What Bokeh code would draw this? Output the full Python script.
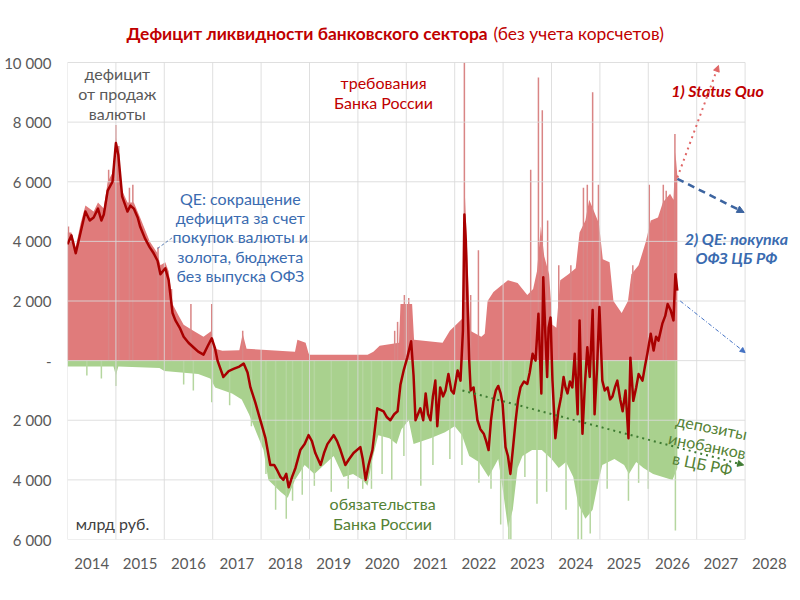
from bokeh.plotting import figure
from bokeh.models import FixedTicker, Arrow, NormalHead
from bokeh.core.properties import value
from bokeh.embed import file_html
from bokeh.resources import INLINE

FONT = "Lato"

# net liquidity deficit (bn rub)
net_t = [2014.00, 2014.08, 2014.17, 2014.27, 2014.37, 2014.46, 2014.54, 2014.63, 2014.70, 2014.75,
         2014.83, 2014.93, 2015.00, 2015.05, 2015.13, 2015.24, 2015.30, 2015.37, 2015.45, 2015.50,
         2015.60, 2015.70, 2015.78, 2015.86, 2015.92, 2016.02, 2016.09, 2016.17, 2016.23, 2016.32,
         2016.40, 2016.50, 2016.60, 2016.70, 2016.81, 2016.90, 2016.98, 2017.05, 2017.10, 2017.22,
         2017.33, 2017.43, 2017.55, 2017.64, 2017.72, 2017.78, 2017.88, 2017.95, 2018.02, 2018.09,
         2018.19, 2018.27, 2018.34, 2018.40, 2018.46, 2018.52, 2018.57, 2018.64, 2018.71, 2018.81,
         2018.90, 2018.98, 2019.05, 2019.12, 2019.23, 2019.30, 2019.37, 2019.50, 2019.57, 2019.64,
         2019.74, 2019.82, 2019.91, 2020.05, 2020.10, 2020.16, 2020.22, 2020.30, 2020.40, 2020.53,
         2020.60, 2020.67, 2020.75, 2020.82, 2020.88, 2020.95, 2021.02, 2021.10, 2021.15, 2021.19,
         2021.29, 2021.35, 2021.40, 2021.45, 2021.50, 2021.55, 2021.60, 2021.64, 2021.70, 2021.76,
         2021.81, 2021.87, 2021.93, 2021.98, 2022.06, 2022.12, 2022.17, 2022.20, 2022.23, 2022.26,
         2022.30, 2022.33, 2022.39, 2022.47, 2022.53, 2022.60, 2022.65, 2022.70, 2022.75, 2022.80,
         2022.85, 2022.90, 2022.95, 2022.99, 2023.05, 2023.10, 2023.15, 2023.20, 2023.26, 2023.31,
         2023.36, 2023.43, 2023.50, 2023.55, 2023.61, 2023.67, 2023.73, 2023.79, 2023.83, 2023.87,
         2023.91, 2023.94, 2023.98, 2024.02, 2024.08, 2024.14, 2024.20, 2024.25, 2024.29, 2024.33,
         2024.38, 2024.43, 2024.48, 2024.54, 2024.58, 2024.64, 2024.69, 2024.74, 2024.79, 2024.85,
         2024.89, 2024.94, 2024.99, 2025.05, 2025.10, 2025.16, 2025.21, 2025.26, 2025.31, 2025.36,
         2025.42, 2025.47, 2025.53, 2025.59, 2025.63, 2025.69, 2025.75, 2025.80, 2025.88, 2025.93,
         2025.98, 2026.05, 2026.11, 2026.16, 2026.21, 2026.29, 2026.35, 2026.40, 2026.46, 2026.52,
         2026.56, 2026.60]
net_v = [3900, 4200, 3600, 4300, 5000, 4700, 4800, 5100, 4700, 4900,
         5700, 6000, 7300, 6900, 5500, 5000, 5200, 5100, 4800, 4500,
         4100, 3800, 3600, 3350, 2900, 3100, 2700, 1600, 1350, 1100,
         800, 600, 450, 300, 200, 500, 750, 400, 0, -550,
         -350, -280, -200, -100, -400, -900, -1400, -1800, -2200, -2600,
         -3500, -3500, -3700, -3900, -4000, -3800, -4250, -3900, -3600, -3000,
         -2800, -2500, -2700, -3100, -3500, -3100, -2800, -2500, -2700, -3000,
         -3500, -3300, -3100, -2900, -3300, -4000, -3500, -3000, -1600, -1700,
         -1900, -2000, -1800, -1700, -800, -300, 100, 650, -500, -2000,
         -1600, -2000, -1100, -1800, -2000, -1200, -670, -2200, -900, -1200,
         -1000, -450, -1000, -1100, -330, -670, 1000, 4900, 4000, 2200,
         0, -1000, -900, -2000, -2300, -2450, -2700, -3000, -2000, -1350,
         -1000, -850, -1100, -1450, -2900, -3200, -3800, -3000, -2000, -1300,
         -900, -700, -780, -400, 230, 0, 1570, -1100, 2800, 1000,
         -550, 1100, 1450, -670, -2600, -1700, -1200, -550, -900, -1100,
         -700, -900, 230, -1800, 1350, -2450, -800, 450, -550, 1700,
         -1800, -300, 1800, -670, -1000, -900, -1300, -1200, -900, -670,
         -1300, -1700, -1000, -2600, 100, -1350, -900, -450, -670, -200,
         230, 900, 340, 800, 670, 1240, 1500, 1900, 1700, 1350,
         2900, 2350]

# claims of the Bank of Russia (red area)
claims_t = [2014.00, 2014.08, 2014.17, 2014.27, 2014.37, 2014.54, 2014.63, 2014.75, 2014.83, 2014.93,
            2015.00, 2015.05, 2015.13, 2015.24, 2015.37, 2015.50, 2015.70, 2015.86, 2015.92, 2016.02,
            2016.09, 2016.17, 2016.30, 2016.40, 2016.60, 2016.81, 2016.98, 2017.05, 2017.20, 2017.55,
            2017.62, 2017.70, 2018.70, 2018.75, 2018.92, 2018.98, 2019.00, 2020.20, 2020.32, 2020.45,
            2020.85, 2020.88, 2021.12, 2021.16, 2021.75, 2021.90, 2022.15, 2022.18, 2022.20, 2022.26,
            2022.32, 2022.55, 2022.62, 2022.68, 2022.80, 2022.95, 2023.10, 2023.30, 2023.50, 2023.62,
            2023.70, 2023.78, 2023.85, 2023.95, 2024.02, 2024.10, 2024.18, 2024.35, 2024.50, 2024.58,
            2024.70, 2024.78, 2024.88, 2024.98, 2025.06, 2025.20, 2025.28, 2025.45, 2025.58, 2025.65,
            2025.80, 2025.95, 2026.05, 2026.20, 2026.30, 2026.45, 2026.52, 2026.56, 2026.60]
claims_v = [4300, 4300, 3800, 4600, 5200, 5000, 5300, 5100, 6000, 6300,
            7500, 7000, 5700, 5300, 5300, 4800, 4000, 3600, 3200, 3300,
            3000, 1900, 1500, 1200, 1000, 800, 1000, 400, 330, 350,
            900, 400, 300, 700, 600, 250, 200, 200, 300, 500,
            600, 1900, 1900, 700, 600, 1000, 1400, 1500, 6000, 3600,
            1000, 800, 900, 2000, 2300, 2500, 2700, 2600, 2200, 2400,
            3000, 4500, 3500, 2900, 1200, 1100, 2700, 2900, 3100, 4300,
            4700, 5400, 5000, 4600, 3400, 3300, 2000, 1600, 2000, 2900,
            3200, 4000, 4700, 4800, 5300, 5600, 5400, 7000, 6200]
claims_spike_t = [2014.02, 2014.85, 2015.00, 2015.06, 2015.28, 2015.35, 2015.87, 2016.15, 2016.55, 2016.98,
                  2017.62, 2020.76, 2020.82, 2020.96, 2021.05, 2022.20, 2022.33, 2022.49, 2023.57, 2023.73,
                  2023.81, 2023.92, 2024.15, 2024.40, 2024.66, 2024.74, 2024.85, 2024.97, 2025.68, 2026.02,
                  2026.31, 2026.37, 2026.55]
claims_spike_v = [4500, 6400, 7900, 7200, 5800, 5900, 3800, 2400, 1900, 1900,
                  1000, 1000, 1300, 2200, 2100, 10000, 2200, 3700, 6400, 9500,
                  8400, 4700, 3200, 3200, 5800, 5900, 9000, 5900, 3200, 5900,
                  5900, 5700, 7600]

# liabilities of the Bank of Russia (green area)
liab_t = [2014.00, 2014.95, 2015.00, 2015.05, 2015.90, 2016.00, 2016.70, 2016.95, 2017.05, 2017.40,
          2017.60, 2017.75, 2017.90, 2018.05, 2018.15, 2018.40, 2018.55, 2018.70, 2018.90, 2019.10,
          2019.30, 2019.50, 2019.70, 2019.90, 2020.10, 2020.20, 2020.30, 2020.42, 2020.65, 2020.80,
          2020.90, 2021.05, 2021.15, 2021.50, 2021.80, 2022.00, 2022.15, 2022.30, 2022.50, 2022.70,
          2022.90, 2023.00, 2023.10, 2023.20, 2023.30, 2023.40, 2023.60, 2023.80, 2024.00, 2024.15,
          2024.30, 2024.45, 2024.55, 2024.70, 2024.85, 2024.95, 2025.05, 2025.30, 2025.50, 2025.60,
          2025.75, 2025.90, 2026.10, 2026.30, 2026.50, 2026.60]
liab_v = [-200, -200, -500, -200, -250, -350, -450, -600, -900, -1100,
          -1300, -1800, -2400, -3000, -4000, -4400, -4600, -4000, -3500, -3800,
          -3500, -3200, -3900, -3800, -4000, -4200, -3300, -2500, -2600, -2800,
          -2300, -2000, -2800, -2600, -2400, -2200, -2500, -3200, -3400, -3900,
          -3300, -4400, -5600, -5000, -3600, -3200, -3000, -3000, -3300, -3600,
          -3400, -3900, -4800, -5300, -5000, -4200, -3500, -3300, -3500, -3800,
          -3400, -3600, -3800, -3900, -4000, -3600]
liab_spike_t = [2014.40, 2014.70, 2015.00, 2016.40, 2016.60, 2016.98, 2017.35, 2017.80, 2018.10, 2018.30,
                2018.52, 2018.65, 2018.85, 2019.10, 2019.45, 2019.80, 2020.10, 2020.28, 2020.50, 2020.70,
                2020.95, 2021.30, 2021.55, 2021.90, 2022.15, 2022.50, 2022.75, 2022.95, 2023.12, 2023.16,
                2023.45, 2023.70, 2023.90, 2024.30, 2024.55, 2024.62, 2024.80, 2025.15, 2025.59, 2025.80,
                2026.00, 2026.56]
liab_spike_v = [-500, -600, -850, -800, -1000, -1400, -1500, -2200, -3800, -5000,
                -5300, -4700, -4500, -4200, -4400, -4300, -4300, -4300, -3800, -4000,
                -3200, -4200, -3500, -3300, -3500, -4100, -4300, -5500, -6000, -6000,
                -3900, -4800, -4400, -5000, -6000, -6000, -5800, -4300, -4700, -4100,
                -4300, -5700]

years = list(range(2014, 2029))
y_ticks = [-6000, -4000, -2000, 0, 2000, 4000, 6000, 8000, 10000]
y_tick_text = ["6 000", "4 000", "2 000", "-", "2 000", "4 000", "6 000", "8 000", "10 000"]

RED_FILL = "#E07B7B"
GREEN_FILL = "#A9D18E"
LINE_RED = "#A80000"
TEXT_RED = "#C00000"
TEXT_BLUE = "#3A6BB0"
TEXT_GREEN = "#548235"
GREY = "#595959"

# the frame reaches up to the title row, so the title can be drawn as text in it
p = figure(width=800, height=590, x_range=(2014, 2029), y_range=(-6000, 12012.6),
           output_backend="svg", toolbar_location=None,
           min_border_left=67, min_border_right=7, min_border_top=2, min_border_bottom=51)
p.outline_line_color = None
p.xgrid.visible = False
p.ygrid.visible = False

# areas
p.varea(x=claims_t, y1=0, y2=claims_v, fill_color=RED_FILL)
p.segment(x0=claims_spike_t, y0=[0] * len(claims_spike_t), x1=claims_spike_t, y1=claims_spike_v,
          line_color="#D98585", line_width=1.5)
p.varea(x=liab_t, y1=0, y2=liab_v, fill_color=GREEN_FILL)
p.segment(x0=liab_spike_t, y0=[0] * len(liab_spike_t), x1=liab_spike_t, y1=liab_spike_v,
          line_color="#B5D69F", line_width=1.5)

# grid lines, only 2014..2028 and -6000..10000
p.segment(x0=[years[0]] * len(y_ticks), y0=y_ticks, x1=[years[-1]] * len(y_ticks), y1=y_ticks,
          line_color="#D9D9D9", line_width=1, line_alpha=0.85)
p.segment(x0=years, y0=[y_ticks[0]] * len(years), x1=years, y1=[y_ticks[-1]] * len(years),
          line_color="#D9D9D9", line_width=1, line_alpha=0.85)

# net deficit
p.line(net_t, net_v, line_color=LINE_RED, line_width=2.5, line_join="round")

# axes
p.yaxis.ticker = FixedTicker(ticks=y_ticks)
p.yaxis.major_label_overrides = dict(zip(y_ticks, y_tick_text))
p.xaxis.ticker = FixedTicker(ticks=[y + 0.5 for y in years])
p.xaxis.major_label_overrides = {y + 0.5: str(y) for y in years}
for ax in (p.xaxis, p.yaxis):
    ax.axis_line_color = None
    ax.major_tick_line_color = None
    ax.minor_tick_line_color = None
    ax.major_label_text_font = FONT
    ax.major_label_text_font_size = "15px"
    ax.major_label_text_color = GREY
p.yaxis.major_label_standoff = 10
p.xaxis.major_label_standoff = 12


def txt(x, y, s, color, size="16px", style="normal", angle=0, align="center"):
    p.text(x=[x], y=[y], text=[s], text_color=color, text_font=value(FONT),
           text_font_size=size, text_font_style=style, text_align=align,
           text_baseline="middle", angle=angle)


# title in two styles: bold part ends where the regular part starts
txt(2022.68, 10968, "Дефицит ликвидности банковского сектора", TEXT_RED, size="17.4px",
    style="bold", align="right")
txt(2022.80, 10968, "(без учета корсчетов)", TEXT_RED, size="17.4px", align="left")

txt(2015.03, 9630, "дефицит", GREY)
txt(2015.03, 8960, "от продаж", GREY)
txt(2015.03, 8290, "валюты", GREY)
txt(2020.53, 9330, "требования", TEXT_RED)
txt(2020.53, 8660, "Банка России", TEXT_RED)
for yy, s in zip([5440, 4800, 4160, 3490, 2850],
                 ["QE: сокращение", "дефицита за счет", "покупок валюты и", "золота, бюджета", "без выпуска ОФЗ"]):
    txt(2017.57, yy, s, TEXT_BLUE)
txt(2027.43, 9060, "1) Status Quo", TEXT_RED, style="bold italic")
txt(2027.82, 4090, "2) QE: покупка", TEXT_BLUE, style="bold italic")
txt(2027.82, 3450, "ОФЗ ЦБ РФ", TEXT_BLUE, style="bold italic")
txt(2020.51, -4800, "обязательства", TEXT_GREEN)
txt(2020.51, -5470, "Банка России", TEXT_GREEN)
txt(2014.93, -5470, "млрд руб.", "#404040")
txt(2027.31, -2220, "депозиты", TEXT_GREEN, angle=-0.2)
txt(2027.22, -2840, "инобанков", TEXT_GREEN, angle=-0.2)
txt(2027.12, -3460, "в ЦБ РФ", TEXT_GREEN, angle=-0.2)

# scenario arrows
p.add_layout(Arrow(x_start=2026.6, y_start=6140, x_end=2027.45, y_end=9900,
                   line_color="#E06666", line_width=2, line_dash="dotted",
                   end=NormalHead(size=6, fill_color="#E06666", line_color="#E06666")))
p.add_layout(Arrow(x_start=2026.6, y_start=6100, x_end=2027.98, y_end=4970,
                   line_color="#3C64A0", line_width=2.5, line_dash="7 5",
                   end=NormalHead(size=7, fill_color="#3C64A0", line_color="#3C64A0")))
p.add_layout(Arrow(x_start=2026.66, y_start=2000, x_end=2028.0, y_end=270,
                   line_color="#4472C4", line_width=1, line_dash="4 2 1 2",
                   end=NormalHead(size=5, fill_color="#4472C4", line_color="#4472C4")))
p.add_layout(Arrow(x_start=2022.16, y_start=-1000, x_end=2027.97, y_end=-3500,
                   line_color="#3E7B32", line_width=2, line_dash="dotted",
                   end=NormalHead(size=6, fill_color="#3E7B32", line_color="#3E7B32")))
p.line([2015.86, 2016.23], [3760, 4200], line_color="#5B7FB5", line_width=1, line_dash="3 2")

open("out.html", "w").write(file_html(p, INLINE))
